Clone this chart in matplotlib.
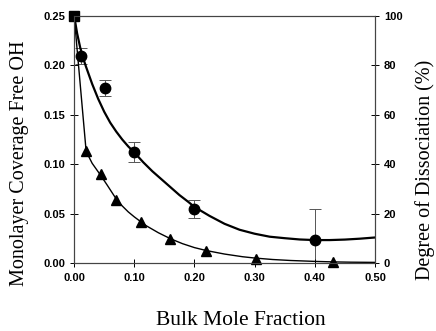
import matplotlib
matplotlib.use('Agg')
import matplotlib.pyplot as plt

# shared starting point (drawn as a square in the original)
start_x = [0.00]
start_y = [0.250]

# measured points (circles, with error bars)
circ_x = [0.011, 0.052, 0.10, 0.20, 0.40]
circ_y = [0.2095, 0.177, 0.112, 0.055, 0.0237]
circ_err = [0.008, 0.008, 0.010, 0.009, 0.031]

# triangles
tri_x = [0.02, 0.044, 0.07, 0.111, 0.16, 0.22, 0.302, 0.43]
tri_y = [0.113, 0.090, 0.064, 0.0415, 0.0247, 0.013, 0.0045, 0.0012]

# fitted curves
fit_c_x = [0.0, 0.005, 0.01, 0.015, 0.02, 0.03, 0.04, 0.05, 0.06, 0.07, 0.08,
           0.09, 0.10, 0.115, 0.13, 0.145, 0.16, 0.175, 0.19, 0.20, 0.225,
           0.25, 0.275, 0.30, 0.325, 0.35, 0.375, 0.40, 0.425, 0.45, 0.475, 0.50]
fit_c_y = [0.250, 0.232, 0.218, 0.207, 0.198, 0.181, 0.166, 0.153, 0.142,
           0.133, 0.125, 0.118, 0.112, 0.102, 0.093, 0.085, 0.077, 0.069,
           0.062, 0.057, 0.048, 0.040, 0.034, 0.030, 0.027, 0.0255, 0.0242,
           0.0236, 0.0236, 0.0241, 0.0250, 0.0262]

fit_t_x = [0.0, 0.02, 0.03, 0.044, 0.055, 0.07, 0.08, 0.09, 0.10, 0.111, 0.12,
           0.14, 0.16, 0.18, 0.20, 0.22, 0.25, 0.28, 0.30, 0.33, 0.36, 0.40,
           0.43, 0.46, 0.50]
fit_t_y = [0.250, 0.113, 0.101, 0.089, 0.079, 0.065, 0.058, 0.052, 0.047,
           0.042, 0.038, 0.031, 0.025, 0.020, 0.016, 0.013, 0.0095, 0.0068,
           0.0055, 0.0040, 0.0030, 0.0021, 0.0016, 0.0013, 0.0011]

xticks = [0.0, 0.1, 0.2, 0.3, 0.4, 0.5]
yticks = [0.0, 0.05, 0.10, 0.15, 0.20, 0.25]
y2ticks = [0, 20, 40, 60, 80, 100]

fig = plt.figure(figsize=(4.36, 3.31), dpi=100)
ax = fig.add_axes([0.170, 0.204, 0.690, 0.749])

ax.plot(fit_c_x, fit_c_y, color='black', lw=1.6, zorder=2)
ax.plot(fit_t_x, fit_t_y, color='black', lw=1.0, zorder=2)
ax.errorbar(circ_x, circ_y, yerr=circ_err, fmt='none', ecolor='#555555',
            elinewidth=0.7, capsize=4, capthick=0.7, zorder=1)
ax.plot(circ_x, circ_y, 'o', color='black', ms=7.5, zorder=3, clip_on=False)
ax.plot(tri_x, tri_y, '^', color='black', ms=7.5, zorder=3, clip_on=False)
ax.plot(start_x, start_y, 's', color='black', ms=7, zorder=3, clip_on=False)

ax.set_xlim(0, 0.5)
ax.set_ylim(0, 0.25)
ax.set_xticks(xticks)
ax.set_yticks(yticks)
ax.set_xticklabels(['%.2f' % v for v in xticks])
ax.set_yticklabels(['%.2f' % v for v in yticks])
ax.tick_params(direction='inout', length=6, width=0.7, labelsize=8)
for lab in ax.get_xticklabels() + ax.get_yticklabels():
    lab.set_fontweight('bold')
    lab.set_family('Liberation Sans')
for s in ax.spines.values():
    s.set_linewidth(0.8)
    s.set_color('#444444')

ax2 = ax.twinx()
ax2.set_ylim(0, 100)
ax2.set_yticks(y2ticks)
ax2.tick_params(direction='inout', length=6, width=0.7, labelsize=8)
for lab in ax2.get_yticklabels():
    lab.set_fontweight('bold')
    lab.set_family('Liberation Sans')
for s in ax2.spines.values():
    s.set_linewidth(0.8)
    s.set_color('#444444')

ax.set_xlabel('Bulk Mole Fraction', family='Liberation Serif', fontsize=15.5, va='center')
ax.set_ylabel('Monolayer Coverage Free OH', family='Liberation Serif', fontsize=14.5, va='center')
ax2.set_ylabel('Degree of Dissociation (%)', family='Liberation Serif', fontsize=14.5, va='center')
ax.xaxis.set_label_coords(0.555, -0.228)
ax.yaxis.set_label_coords(-0.183, 0.405)
ax2.yaxis.set_label_coords(1.166, 0.377)

fig.savefig('out.png', dpi=100)
